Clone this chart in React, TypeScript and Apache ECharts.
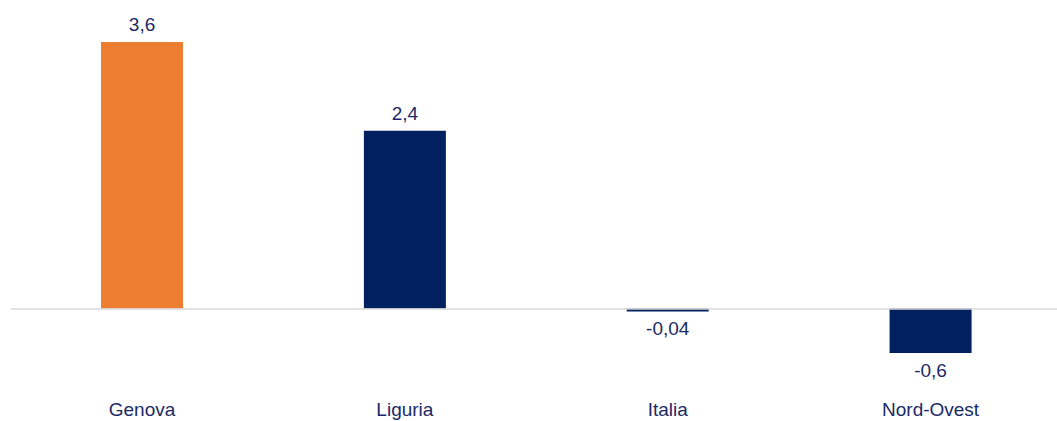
import React, { useEffect, useRef } from "react";
import * as echarts from "echarts";

const categories = ["Genova", "Liguria", "Italia", "Nord-Ovest"];
const values = [3.6, 2.4, -0.04, -0.6];
const barColors = ["#ED7D31", "#002060", "#002060", "#002060"];

const FONT = "'Liberation Sans Narrow', 'Arial Narrow', 'Liberation Sans', Arial, sans-serif";
const TEXT = "#1B2A66";

export default function App() {
  const ref = useRef<HTMLDivElement>(null);
  useEffect(() => {
    if (!ref.current) return;
    document.documentElement.style.overflow = "hidden";
    document.body.style.overflow = "hidden";
    const chart = echarts.init(ref.current, null, { renderer: "svg" });
    chart.setOption({
      animation: false,
      grid: { left: 10.6, right: 0, top: 12.4, bottom: 38.5, containLabel: false },
      xAxis: {
        type: "category",
        data: categories,
        position: "bottom",
        axisLine: { show: false, onZero: false },
        axisTick: { show: false },
        splitLine: { show: false },
        axisLabel: { fontFamily: FONT, fontSize: 19, color: TEXT, margin: 17 },
      },
      yAxis: {
        type: "value",
        min: -1,
        max: 4,
        show: false,
        splitLine: { show: false },
      },
      series: [
        {
          type: "bar",
          barWidth: 82,
          data: values.map((v, i) => ({
            value: v,
            itemStyle: { color: barColors[i] },
            label: { position: v >= 0 ? "top" : "bottom" },
          })),
          label: {
            show: true,
            fontFamily: FONT,
            fontSize: 19,
            color: TEXT,
            distance: 8,
            formatter: (p: any) => String(p.value).replace(".", ","),
          },
          markLine: {
            silent: true,
            symbol: "none",
            label: { show: false },
            lineStyle: { color: "#D9D9D9", width: 1.5, type: "solid" },
            data: [{ yAxis: 0 }],
          },
        },
      ],
    });
    return () => chart.dispose();
  }, []);
  return (
    <div
      ref={ref}
      style={{ position: "absolute", left: 0, top: 0, width: 1062, height: 421 }}
    />
  );
}
